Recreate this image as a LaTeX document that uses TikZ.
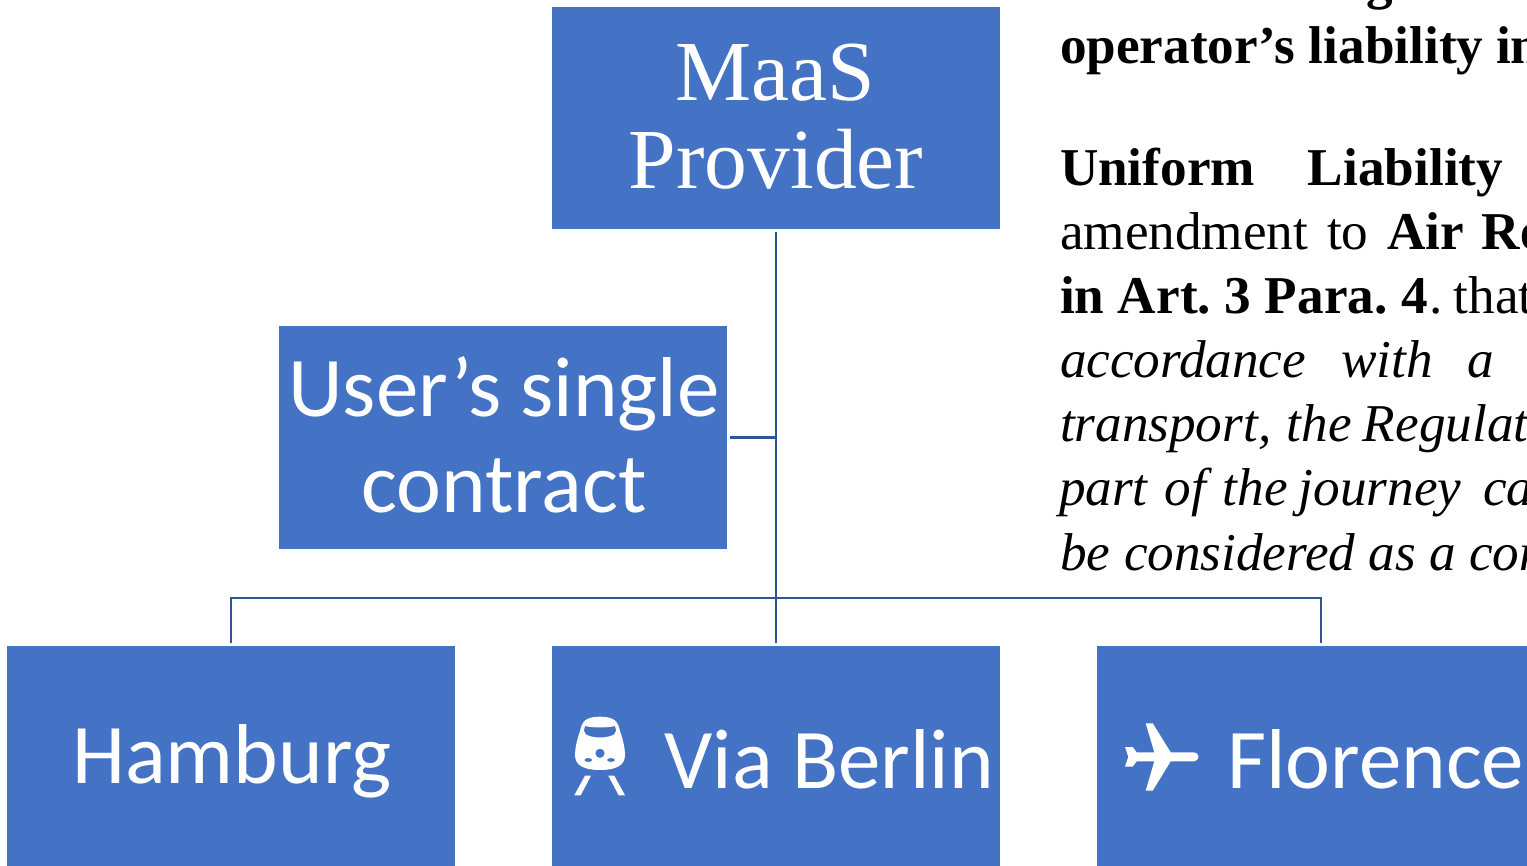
\documentclass[tikz,border=0pt]{standalone}
\usepackage{fontspec}
\setmainfont{Liberation Serif}
\newfontfamily\boxfont{Carlito}
\definecolor{boxblue}{HTML}{4472C4}
\definecolor{linkblue}{HTML}{2F5597}
\newcommand{\W}[2]{\makebox[#1pt][l]{#2}}
\tikzset{
  bluebox/.style={fill=boxblue,minimum width=448pt,minimum height=222pt,inner sep=0pt,outer sep=3pt,text=white,align=center},
  link/.style={draw=linkblue,line width=2.6pt},
  para/.style={anchor=base west,inner sep=0pt,outer sep=0pt,font=\fontsize{53.2}{64}\selectfont},
  boxlabel/.style={anchor=base west,inner sep=0pt,text=white,font=\boxfont\fontsize{85}{96}\selectfont},
  seriflabel/.style={anchor=base,inner sep=0pt,text=white,font=\fontsize{85.5}{88}\selectfont},
  icon/.style={fill=white,draw=none}
}
\begin{document}
\begin{tikzpicture}[x=1pt,y=-1pt]
\useasboundingbox (0,0) rectangle (1527,866);
\clip (0,0) rectangle (1527,866);
\node[bluebox] (maas) at (776,118) {};
\node[bluebox] (contract) at (503,437.5) {};
\node[bluebox] (hamburg) at (231,757) {};
\node[bluebox] (via) at (776,757) {};
\node[bluebox] (florence) at (1321,757) {};
\node[seriflabel] (maas1) at (775,100.5) {MaaS};
\node[seriflabel] (maas2) at (776,188.5) {Provider};
\node[boxlabel,anchor=base] (contract1) at (504,416.5) {User’s single};
\node[boxlabel,anchor=base] (contract2) at (504,512) {contract};
\node[boxlabel] (hamburglabel) at (72,783) {Hamburg};
\node[boxlabel] (vialabel) at (664.5,788.5) {Via Berlin};
\node[boxlabel] (florencelabel) at (1227,788.5) {Florence};
\coordinate (bus) at (776,598);
\coordinate (tee) at (776,437.5);
\draw[link] (maas.south) -- (via.north);
\draw[link] (contract.east) -- (tee);
\draw[link] (hamburg.north) |- (bus) -| (florence.north);
% train icon
\fill[icon,even odd rule] (600,716.7) .. controls (585,716.7) and (582,722) .. (580,731)
  .. controls (577,740) and (575,748) .. (575,755)
  .. controls (575,766) and (585,770) .. (600,770)
  .. controls (615,770) and (625,766) .. (625,755)
  .. controls (625,748) and (623,740) .. (620,731)
  .. controls (618,722) and (615,716.7) .. (600,716.7) -- cycle
  (585,726) .. controls (593,728) and (607,728) .. (615,726)
  .. controls (616.5,730) and (616,733) .. (614,734.5)
  .. controls (607,738.5) and (593,738.5) .. (586,734.5)
  .. controls (584,733) and (583.5,730) .. (585,726) -- cycle
  (600,753.3) circle (4.7)
  (588.3,760) ellipse (4 and 2)
  (611,760) ellipse (4 and 2);
\fill[icon] (585,775.7) -- (591,775.7) -- (580.7,795.3) -- (574.3,795.3) -- cycle;
\fill[icon] (608.3,775.7) -- (614.3,775.7) -- (625,795.3) -- (618.7,795.3) -- cycle;
% plane icon
\fill[icon] (1145.7,723.3) -- (1152.7,723.3) -- (1170.7,752.3) -- (1194,752.3)
  arc[start angle=-90,end angle=90,radius=4.5] -- (1170.7,761.3) -- (1152.7,790.7) -- (1145.7,790.7)
  -- (1154.3,761.3) -- (1136.7,761.3) -- (1132.7,766.7) -- (1125,766.7) -- (1128.3,756.7)
  -- (1125,747) -- (1132.7,747) -- (1136.7,752.3) -- (1154.3,752.3) -- cycle;
% paragraph
\node[para] (l0) at (1366,-1) {\bfseries g};
\node[para] (l1) at (1060,64) {\bfseries \W{249}{operator’s}\W{187}{liability}in};
\node[para] (l2) at (1060,185.5) {\bfseries \W{248}{Uniform}Liability};
\node[para] (l3) at (1060,249.5) {\W{267}{amendment}\W{60}{to}\bfseries\W{95}{Air}Re};
\node[para] (l4) at (1060,313.5) {\bfseries \W{58}{in}\W{107}{Art.}\W{40}{3}\W{137}{Para.}\W{27}{4}\mdseries\W{25}{.}that};
\node[para] (l5) at (1060,378) {\itshape \W{281}{accordance}\W{126}{with}a};
\node[para] (l6) at (1060,442) {\itshape \W{227}{transport,}\W{76}{the}Regulat};
\node[para] (l7) at (1059,506) {\itshape \W{106}{part}\W{58}{of}\W{76}{the}\W{184}{journey}ca};
\node[para] (l8) at (1060,570) {\itshape \W{64}{be}\W{245}{considered}\W{60}{as}\W{40}{a}con};
\end{tikzpicture}
\end{document}
